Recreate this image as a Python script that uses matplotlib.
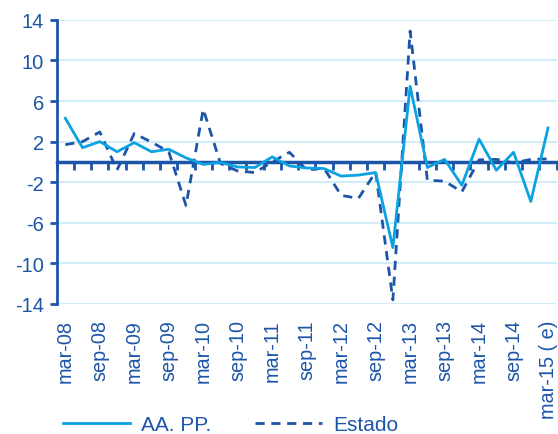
import matplotlib
matplotlib.use("Agg")
import matplotlib.pyplot as plt
import numpy as np

plt.rcParams['font.family'] = ['Liberation Sans', 'DejaVu Sans']

quarters = ['mar-08', 'jun-08', 'sep-08', 'dic-08', 'mar-09', 'jun-09', 'sep-09', 'dic-09',
            'mar-10', 'jun-10', 'sep-10', 'dic-10', 'mar-11', 'jun-11', 'sep-11', 'dic-11',
            'mar-12', 'jun-12', 'sep-12', 'dic-12', 'mar-13', 'jun-13', 'sep-13', 'dic-13',
            'mar-14', 'jun-14', 'sep-14', 'dic-14', 'mar-15 ( e)']
tick_labels = ['mar-08', 'sep-08', 'mar-09', 'sep-09', 'mar-10', 'sep-10', 'mar-11', 'sep-11',
               'mar-12', 'sep-12', 'mar-13', 'sep-13', 'mar-14', 'sep-14', 'mar-15 ( e)']
aapp = [4.3, 1.4, 2.0, 1.0, 1.9, 1.0, 1.25, 0.4, -0.25, -0.05, -0.5, -0.55, 0.5, -0.4,
        -0.6, -0.65, -1.4, -1.3, -1.05, -8.45, 7.45, -0.55, 0.25, -2.3, 2.25, -0.82, 0.95,
        -3.9, 3.35]
estado = [1.7, 2.0, 2.95, -0.8, 2.8, 1.95, 1.0, -4.3, 5.2, -0.15, -0.9, -1.05, 0.0, 0.95,
          -0.8, -0.6, -3.3, -3.6, -1.0, -13.6, 12.9, -1.8, -1.9, -2.95, 0.2, 0.25, -0.1,
          0.25, 0.3]
yticks = [14, 10, 6, 2, -2, -6, -10, -14]

dark = '#1C55A8'
light = '#0CA2E2'
grid = '#D2ECF8'

fig = plt.figure(figsize=(5.58, 4.35), dpi=100)
ax = fig.add_axes([0.1016, 0.299, 0.896, 0.653])

x = np.arange(len(quarters))
ax.set_xlim(-0.5, len(quarters) - 0.5)
ax.set_ylim(-14, 14)

ax.set_yticks(yticks)
ax.set_yticklabels([str(v) for v in yticks])
ax.yaxis.grid(True, color=grid, linewidth=1.5)
ax.set_axisbelow(True)
ax.tick_params(axis='y', direction='out', length=5, width=2, color=dark,
               labelcolor=dark, labelsize=14.5, pad=4)

ax.set_xticks(x[::2])
ax.set_xticklabels(tick_labels, rotation=90)
ax.tick_params(axis='x', length=0, labelcolor=dark, labelsize=14.3, pad=11)

for s in ['top', 'right', 'bottom']:
    ax.spines[s].set_visible(False)
ax.spines['left'].set_color(dark)
ax.spines['left'].set_linewidth(2)

# zero axis with category tick marks
sec = ax.secondary_xaxis(0.5)
sec.set_alignment('bottom')
sec.set_xticks(np.arange(len(quarters) + 1) - 0.5)
sec.set_xticklabels([])
sec.tick_params(axis='x', direction='out', length=6, width=2, color=dark)
sec.spines['bottom'].set_color(dark)
sec.spines['bottom'].set_linewidth(2.5)

ax.plot(x, aapp, color=light, linewidth=2.0, label='AA. PP.', zorder=5)
ax.plot(x, estado, color=dark, linewidth=2.0, linestyle=(0, (3.3, 2.4)), label='Estado', zorder=4)

leg = fig.legend(loc='center left', bbox_to_anchor=(0.113, 0.021), ncol=2, frameon=False,
                 fontsize=15, handlelength=3.2, handletextpad=0.55, columnspacing=2.1,
                 borderpad=0, borderaxespad=0)
for t in leg.get_texts():
    t.set_color(dark)

fig.savefig('out.png', dpi=100)
